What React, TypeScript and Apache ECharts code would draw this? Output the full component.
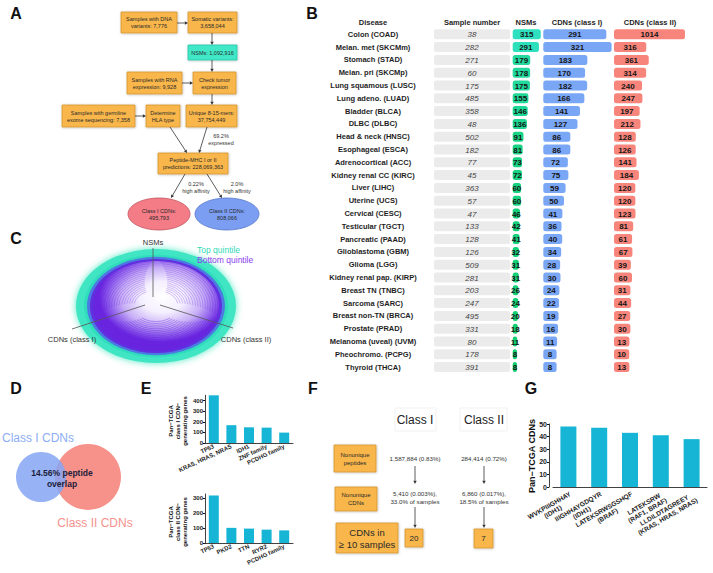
import React, { useEffect, useRef } from 'react';
import * as echarts from 'echarts';

const FONT = '"Liberation Sans", Arial, Helvetica, sans-serif';

// ---------- Panel B data ----------
const diseases = [
  'Colon (COAD)', 'Melan. met (SKCMm)', 'Stomach (STAD)', 'Melan. pri (SKCMp)', 'Lung squamous (LUSC)',
  'Lung adeno. (LUAD)', 'Bladder (BLCA)', 'DLBC (DLBC)', 'Head & neck (HNSC)', 'Esophageal (ESCA)',
  'Adrenocortical (ACC)', 'Kidney renal CC (KIRC)', 'Liver (LIHC)', 'Uterine (UCS)', 'Cervical (CESC)',
  'Testicular (TGCT)', 'Pancreatic (PAAD)', 'Glioblastoma (GBM)', 'Glioma (LGG)', 'Kidney renal pap. (KIRP)',
  'Breast TN (TNBC)', 'Sarcoma (SARC)', 'Breast non-TN (BRCA)', 'Prostate (PRAD)', 'Melanoma (uveal) (UVM)',
  'Pheochromo. (PCPG)', 'Thyroid (THCA)',
];
const sampleNumbers = [38, 282, 271, 60, 175, 485, 358, 48, 502, 182, 77, 45, 363, 57, 47, 133, 128, 126, 509, 281, 203, 247, 495, 331, 80, 178, 391];
const nsms = [315, 291, 179, 178, 175, 155, 146, 136, 91, 81, 73, 72, 60, 60, 46, 42, 41, 32, 31, 31, 26, 24, 20, 18, 11, 8, 8];
const cdnClassI = [291, 321, 183, 170, 182, 166, 141, 127, 86, 86, 72, 75, 59, 50, 41, 36, 40, 34, 28, 30, 24, 22, 19, 16, 11, 8, 8];
const cdnClassII = [1014, 316, 361, 314, 240, 247, 197, 212, 128, 126, 141, 184, 120, 120, 123, 81, 61, 67, 39, 60, 31, 44, 27, 30, 13, 10, 13];
const tableHeaders = ['Disease', 'Sample number', 'NSMs', 'CDNs (class I)', 'CDNs (class II)'];

// ---------- Panel E data ----------
const eTopGenes = ['TP53', 'KRAS, HRAS, NRAS', 'IDH1', 'ZNF family', 'PCDHG family'];
const eTopValues = [450, 168, 148, 145, 98];
const eBottomGenes = ['TP53', 'PKD2', 'TTN', 'RYR2', 'PCDHG family'];
const eBottomValues = [320, 102, 97, 90, 85];

// ---------- Panel G data ----------
const gPeptides = ['WVKPIIIGHHAY|(IDH1)', 'IIIGHHAYGDQYR|(IDH1)', 'LATEKSRWSGSHQF|(BRAF)', 'LATEKSRW|(RAF1, BRAF)', 'LLDILDTAGREEY|(KRAS, HRAS, NRAS)'];
const gValues = [48, 47, 43, 41, 38];

// ---------- helpers ----------
function txt(x: number, y: number, text: string, size: number, o: any = {}) {
  const style: any = {
    text, fontSize: size, fontFamily: FONT, fontWeight: o.weight || 'normal', fontStyle: o.fstyle || 'normal',
    fill: o.color || '#222', align: o.align || 'center', verticalAlign: o.va || 'middle',
  };
  if (o.lh) style.lineHeight = o.lh;
  return { type: 'text', x, y, rotation: o.rot || 0, silent: true, style };
}
function box(x: number, y: number, w: number, h: number, text: string, fill: string, stroke: string, size = 5.5, lh = 7) {
  return [
    { type: 'rect', shape: { x, y, width: w, height: h }, style: { fill, stroke, lineWidth: 0.8, shadowBlur: 2, shadowColor: 'rgba(0,0,0,0.25)', shadowOffsetX: 0.5, shadowOffsetY: 0.5 }, silent: true },
    txt(x + w / 2, y + h / 2 + 0.3, text, size, { color: '#2a2a2a', lh }),
  ];
}
function arrow(x1: number, y1: number, x2: number, y2: number, color = '#333') {
  const a = Math.atan2(y2 - y1, x2 - x1);
  const hl = 3.2, hw = 1.7;
  const bx = x2 - hl * Math.cos(a), by = y2 - hl * Math.sin(a);
  return [
    { type: 'line', shape: { x1, y1, x2: bx, y2: by }, style: { stroke: color, lineWidth: 0.8 }, silent: true },
    { type: 'polygon', shape: { points: [[x2, y2], [bx + hw * Math.sin(a), by - hw * Math.cos(a)], [bx - hw * Math.sin(a), by + hw * Math.cos(a)]] }, style: { fill: color }, silent: true },
  ];
}
function ellipse(cx: number, cy: number, rx: number, ry: number, fill: string, stroke: string, text: string) {
  return [
    { type: 'ellipse', shape: { cx, cy, rx, ry }, style: { fill, stroke, lineWidth: 0.8 }, silent: true },
    txt(cx, cy + 0.3, text, 5.5, { color: '#2a2a2a', lh: 7 }),
  ];
}

function barRenderer(pad: number) {
  return (params: any, api: any) => {
    const v = api.value(0);
    const c = api.value(1);
    const p0 = api.coord([0, c]);
    const p1 = api.coord([v, c]);
    const h = 10;
    const w = p1[0] - p0[0] + pad;
    return {
      type: 'group',
      children: [
        { type: 'rect', shape: { x: p0[0], y: p0[1] - h / 2, width: w, height: h, r: 2.5 }, style: { fill: api.visual('color') } },
        { type: 'text', x: p0[0] + w / 2, y: p0[1] + 0.5, style: { text: String(v), fontSize: 8, fontWeight: 'bold', fontFamily: FONT, fill: '#151515', align: 'center', verticalAlign: 'middle' } },
      ],
    };
  };
}
function sampleRenderer(params: any, api: any) {
  const c = api.value(1);
  const p = api.coord([0, c]);
  const cs = params.coordSys;
  return {
    type: 'group',
    children: [
      { type: 'rect', shape: { x: cs.x, y: p[1] - 5, width: cs.width, height: 10, r: 2 }, style: { fill: '#ebebeb' } },
      { type: 'text', x: cs.x + cs.width / 2, y: p[1] + 0.5, style: { text: String(api.value(0)), fontSize: 8, fontStyle: 'italic', fontFamily: FONT, fill: '#444', align: 'center', verticalAlign: 'middle' } },
    ],
  };
}

function hivePlot(cx: number, cy: number) {
  const children: any[] = [
    { type: 'circle', shape: { cx: 0, cy: 0, r: 80 }, style: { fill: '#3fe6c3', shadowBlur: 7, shadowColor: 'rgba(60,230,190,0.9)' } },
    { type: 'circle', shape: { cx: 0, cy: 0, r: 72 }, style: { fill: '#2fdcbc' } },
    { type: 'circle', shape: { cx: 0, cy: 0, r: 69 }, style: { fill: '#4d7ae2' } },
    { type: 'circle', shape: { cx: 0, cy: 0, r: 66 }, style: { fill: '#5f2fe0' } },
    {
      type: 'circle', shape: { cx: 0, cy: 0, r: 63 },
      style: { fill: { type: 'radial', x: 0.55, y: 0.4, r: 0.5, colorStops: [{ offset: 0, color: '#ffffff' }, { offset: 0.35, color: '#f4effe' }, { offset: 0.65, color: '#c7aef6' }, { offset: 0.85, color: '#9060ec' }, { offset: 1, color: '#6a25df' }] } },
    },
  ];
  // decorative edge curves of the hive plot (three sectors between the axes)
  const sectors = [[14, 166], [168, 266], [-86, 12]];
  sectors.forEach(([s, e], si) => {
    for (let r = 62; r >= 22; r -= 2.5) {
      const shrink = (62 - r) * (si === 0 ? 0.9 : 0.55);
      children.push({
        type: 'arc', shape: { cx: 0, cy: 0, r, startAngle: ((s + shrink) * Math.PI) / 180, endAngle: ((e - shrink) * Math.PI) / 180 },
        style: { stroke: '#6420de', lineWidth: 0.8, fill: 'none', opacity: si === 0 ? 0.55 : 0.4 },
      });
    }
  });
  return { type: 'group', x: cx, y: cy, scaleY: 57 / 80, silent: true, children };
}

function buildGraphics() {
  const g: any[] = [];
  const ORANGE = '#f8b64c', ORANGE_S = '#d4952f';
  [['A', 16, 13], ['B', 312, 13], ['C', 16, 238], ['D', 16, 388], ['E', 146, 388], ['F', 313, 388], ['G', 531, 388]].forEach(([l, x, y]) => {
    g.push(txt(x as number, y as number, l as string, 16, { weight: 'bold', color: '#111' }));
  });

  // ---- Panel A flowchart ----
  g.push(...box(121, 12, 56, 21, 'Samples with DNA\nvariants: 7,776', ORANGE, ORANGE_S));
  g.push(...box(188, 12, 49, 21, 'Somatic variants:\n3,658,044', ORANGE, ORANGE_S));
  g.push(...box(188, 45, 49, 15, 'NSMs: 1,092,916', '#3fe8c8', '#22c4a4'));
  g.push(...box(127, 72, 55, 22, 'Samples with RNA\nexpression: 9,928', ORANGE, ORANGE_S));
  g.push(...box(193, 72, 43, 22, 'Check tumor\nexpression', ORANGE, ORANGE_S));
  g.push(...box(62, 105, 73, 22, 'Samples with germline\nexome sequencing: 7,358', ORANGE, ORANGE_S));
  g.push(...box(146, 105, 34, 22, 'Determine\nHLA type', ORANGE, ORANGE_S));
  g.push(...box(186, 105, 51, 22, 'Unique 8-15-mers:\n37,754,449', ORANGE, ORANGE_S));
  g.push(...box(158, 153, 70, 21, 'Peptide-MHC I or II\npredictions: 228,069,363', ORANGE, ORANGE_S));
  g.push(...arrow(177, 23, 188, 23));
  g.push(...arrow(212, 33, 212, 45));
  g.push(...arrow(212, 60, 212, 72));
  g.push(...arrow(182, 83, 193, 83));
  g.push(...arrow(212, 94, 212, 105));
  g.push(...arrow(135, 116, 146, 116));
  g.push(...arrow(170, 127, 187, 153));
  g.push(...arrow(207, 127, 199, 153));
  g.push(txt(221, 139, '69.2%\nexpressed', 5.5, { color: '#333', lh: 7 }));
  g.push(...arrow(185, 174, 171, 198));
  g.push(...arrow(207, 174, 222, 198));
  g.push(txt(196, 187, '0.22%\nhigh affinity', 5.5, { color: '#333', lh: 7 }));
  g.push(txt(237, 187, '2.0%\nhigh affinity', 5.5, { color: '#333', lh: 7 }));
  g.push(...ellipse(159, 214, 31, 16, '#f47c86', '#c05560', 'Class I CDNs:\n495,793'));
  g.push(...ellipse(227, 214, 32, 16, '#7b9ef2', '#5577c8', 'Class II CDNs:\n808,066'));

  // ---- Panel B headers ----
  const hx = [373, 472, 526, 577, 650];
  tableHeaders.forEach((h, i) => g.push(txt(hx[i], 22, h, 7.5, { weight: 'bold', color: '#1e1e1e' })));

  // ---- Panel C ----
  g.push(hivePlot(156, 306));
  g.push({ type: 'line', shape: { x1: 153, y1: 248, x2: 153, y2: 297 }, style: { stroke: '#555', lineWidth: 0.8 }, silent: true });
  g.push({ type: 'line', shape: { x1: 145, y1: 305, x2: 72, y2: 329 }, style: { stroke: '#555', lineWidth: 0.8 }, silent: true });
  g.push({ type: 'line', shape: { x1: 160, y1: 305, x2: 233, y2: 328 }, style: { stroke: '#555', lineWidth: 0.8 }, silent: true });
  g.push(txt(153, 242, 'NSMs', 7.5, { color: '#333' }));
  g.push(txt(72, 339, 'CDNs (class I)', 7.5, { color: '#333' }));
  g.push(txt(246, 339, 'CDNs (class II)', 7.5, { color: '#333' }));
  g.push(txt(197, 250, 'Top quintile', 8.5, { color: '#2fd9b7', align: 'left' }));
  g.push(txt(197, 259.5, 'Bottom quintile', 8.5, { color: '#8a3cf0', align: 'left' }));

  // ---- Panel D Venn ----
  g.push({ type: 'circle', shape: { cx: 88, cy: 477, r: 33 }, style: { fill: '#f7928b' }, silent: true });
  g.push({ type: 'circle', shape: { cx: 41, cy: 477, r: 25 }, style: { fill: '#86a6f3', opacity: 0.85 }, silent: true });
  g.push(txt(62, 478, '14.56% peptide\noverlap', 8.5, { weight: 'bold', color: '#1c1c3a', lh: 11 }));
  g.push(txt(38, 438, 'Class I CDNs', 12, { color: '#8cadf4' }));
  g.push(txt(95, 523, 'Class II CDNs', 12, { color: '#f4928c' }));

  // ---- Panel E axis titles ----
  g.push(txt(178, 421, 'Pan\u2212TCGA\nclass I CDN\u2212\ngenerating genes', 6, { weight: 'bold', color: '#111', rot: Math.PI / 2, lh: 6.7 }));
  g.push(txt(178, 522, 'Pan\u2212TCGA\nclass II CDN\u2212\ngenerating genes', 6, { weight: 'bold', color: '#111', rot: Math.PI / 2, lh: 6.7 }));

  // ---- Panel F ----
  g.push({ type: 'rect', shape: { x: 395, y: 408, width: 41, height: 23 }, style: { fill: 'none', stroke: '#f1f1f1' }, silent: true });
  g.push({ type: 'rect', shape: { x: 460, y: 408, width: 47, height: 23 }, style: { fill: 'none', stroke: '#f1f1f1' }, silent: true });
  g.push(txt(415, 420, 'Class I', 12, { color: '#222' }));
  g.push(txt(484, 420, 'Class II', 12, { color: '#222' }));
  g.push(...box(334, 445, 42, 27, 'Nonunique\npeptides', ORANGE, ORANGE_S, 6, 8));
  g.push(...box(335, 487, 42, 24, 'Nonunique\nCDNs', ORANGE, ORANGE_S, 6, 8));
  g.push(...box(336, 523, 62, 30, 'CDNs in\n\u2265 10 samples', ORANGE, ORANGE_S, 9.5, 12));
  g.push(...box(405, 529, 18, 18, '20', ORANGE, ORANGE_S, 8, 9));
  g.push(...box(474, 529, 19, 19, '7', ORANGE, ORANGE_S, 8, 9));
  g.push(txt(415, 458, '1,587,884 (0.83%)', 6.2, { color: '#333' }));
  g.push(txt(484, 458, '284,414 (0.72%)', 6.2, { color: '#333' }));
  g.push(txt(415, 497.5, '5,410 (0.003%),\n33.0% of samples', 6.2, { color: '#333', lh: 8.5 }));
  g.push(txt(484, 497.5, '6,860 (0.017%),\n18.5% of samples', 6.2, { color: '#333', lh: 8.5 }));
  g.push(...arrow(415, 466, 415, 484));
  g.push(...arrow(484, 466, 484, 484));
  g.push(...arrow(415, 507, 415, 528));
  g.push(...arrow(484, 507, 484, 528));

  // ---- Panel G axis title ----
  g.push(txt(532, 456, 'Pan\u2212TCGA CDNs', 9, { weight: 'bold', color: '#111', rot: Math.PI / 2 }));
  return g;
}

export default function App() {
  const ref = useRef<HTMLDivElement>(null);
  useEffect(() => {
    document.body.style.margin = '0';
    if (!ref.current) return;
    const chart = echarts.init(ref.current, null, { renderer: 'svg' });
    const rowTop = 27.9, rowH = 345.6;
    const hiddenVal = (gridIndex: number, max: number) => ({ type: 'value', gridIndex, min: 0, max, show: false, splitLine: { show: false } });
    const hiddenCat = (gridIndex: number) => ({ type: 'category', gridIndex, data: diseases, inverse: true, show: false });
    const smallAxis = { lineStyle: { color: '#111', width: 0.8 } };
    const option: any = {
      animation: false,
      backgroundColor: '#ffffff',
      textStyle: { fontFamily: FONT },
      grid: [
        { left: 434, top: rowTop, width: 76, height: rowH },
        { left: 512.7, top: rowTop, width: 30, height: rowH },
        { left: 543.3, top: rowTop, width: 68, height: rowH },
        { left: 614, top: rowTop, width: 70, height: rowH },
        { left: 205, top: 395.3, width: 88, height: 47.7 },
        { left: 205, top: 494, width: 88, height: 49 },
        { left: 553, top: 424, width: 154, height: 63 },
      ],
      xAxis: [
        hiddenVal(0, 1000),
        hiddenVal(1, 388),
        hiddenVal(2, 387),
        hiddenVal(3, 1261),
        {
          type: 'category', gridIndex: 4, data: eTopGenes,
          axisLine: smallAxis, axisTick: { alignWithLabel: true, length: 2, lineStyle: { color: '#111' } },
          axisLabel: { interval: 0, rotate: 25, fontSize: 6, fontWeight: 'bold', color: '#222', margin: 3, fontFamily: FONT },
        },
        {
          type: 'category', gridIndex: 5, data: eBottomGenes,
          axisLine: smallAxis, axisTick: { alignWithLabel: true, length: 2, lineStyle: { color: '#111' } },
          axisLabel: { interval: 0, rotate: 25, fontSize: 6, fontWeight: 'bold', color: '#222', margin: 3, fontFamily: FONT },
        },
        {
          type: 'category', gridIndex: 6, data: gPeptides,
          axisLine: smallAxis, axisTick: { alignWithLabel: true, length: 2, lineStyle: { color: '#111' } },
          axisLabel: {
            interval: 0, rotate: 30, margin: 3, verticalAlign: 'top',
            formatter: (v: string) => { const [a, b] = v.split('|'); return `{l|${a}}\n{l|${b}}`; },
            rich: { l: { align: 'center', fontSize: 6.6, fontWeight: 'bold', color: '#222', lineHeight: 7.2, fontFamily: FONT } },
          },
        },
      ],
      yAxis: [
        {
          type: 'category', gridIndex: 0, data: diseases, inverse: true,
          axisLine: { show: false }, axisTick: { show: false },
          axisLabel: { interval: 0, align: 'center', margin: 61, fontSize: 7.5, fontWeight: 'bold', color: '#1e1e1e', fontFamily: FONT },
        },
        hiddenCat(1), hiddenCat(2), hiddenCat(3),
        {
          type: 'value', gridIndex: 4, min: 0, max: 450, interval: 100, splitLine: { show: false },
          axisLine: { show: true, ...smallAxis }, axisTick: { show: true, length: 2, lineStyle: { color: '#111' } },
          axisLabel: { fontSize: 6, fontWeight: 'bold', color: '#222', margin: 2, showMaxLabel: false, fontFamily: FONT },
        },
        {
          type: 'value', gridIndex: 5, min: 0, max: 330, interval: 100, splitLine: { show: false },
          axisLine: { show: true, ...smallAxis }, axisTick: { show: true, length: 2, lineStyle: { color: '#111' } },
          axisLabel: { fontSize: 6, fontWeight: 'bold', color: '#222', margin: 2, showMaxLabel: false, fontFamily: FONT },
        },
        {
          type: 'value', gridIndex: 6, min: 0, max: 50, interval: 10, offset: 4, splitLine: { show: false },
          axisLine: { show: true, ...smallAxis }, axisTick: { show: true, length: 2, lineStyle: { color: '#111' } },
          axisLabel: { fontSize: 7, fontWeight: 'bold', color: '#222', margin: 2, fontFamily: FONT },
        },
      ],
      visualMap: [{
        type: 'continuous', show: false, seriesIndex: 1, dimension: 0, min: 8, max: 315,
        inRange: { color: ['#12cf70', '#2fe0c0'] },
      }],
      series: [
        { type: 'custom', xAxisIndex: 0, yAxisIndex: 0, clip: false, encode: { x: 0, y: 1 }, data: sampleNumbers.map((v, i) => [v, i]), renderItem: sampleRenderer },
        { type: 'custom', xAxisIndex: 1, yAxisIndex: 1, clip: false, encode: { x: 0, y: 1 }, data: nsms.map((v, i) => [v, i]), renderItem: barRenderer(3.7) },
        { type: 'custom', xAxisIndex: 2, yAxisIndex: 2, clip: false, encode: { x: 0, y: 1 }, itemStyle: { color: '#7aa6f6' }, data: cdnClassI.map((v, i) => [v, i]), renderItem: barRenderer(11.9) },
        { type: 'custom', xAxisIndex: 3, yAxisIndex: 3, clip: false, encode: { x: 0, y: 1 }, itemStyle: { color: '#f8857b' }, data: cdnClassII.map((v, i) => [v, i]), renderItem: barRenderer(14.7) },
        { type: 'bar', xAxisIndex: 4, yAxisIndex: 4, data: eTopValues, barWidth: 10, itemStyle: { color: '#17b5d5' } },
        { type: 'bar', xAxisIndex: 5, yAxisIndex: 5, data: eBottomValues, barWidth: 10, itemStyle: { color: '#17b5d5' } },
        { type: 'bar', xAxisIndex: 6, yAxisIndex: 6, data: gValues, barWidth: 16, itemStyle: { color: '#17b5d5' } },
      ],
      graphic: { elements: buildGraphics() },
    };
    chart.setOption(option);
    return () => chart.dispose();
  }, []);
  return <div ref={ref} style={{ width: 713, height: 573 }} />;
}
